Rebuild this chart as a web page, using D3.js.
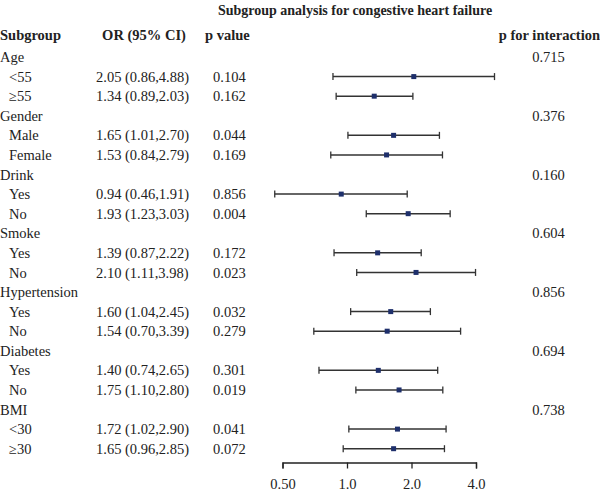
<!DOCTYPE html>
<html>
<head>
<meta charset="utf-8">
<script src="https://cdn.jsdelivr.net/npm/d3@7"></script>
<style>
  body { margin: 0; background: #fff; }
  text { font-family: "Liberation Serif", "DejaVu Serif", serif; fill: #222; }
</style>
</head>
<body>
<div id="wrapper"></div>
<script>
// Data
const labels = ["Age", "<55", "\u226555", "Gender", "Male", "Female", "Drink", "Yes", "No",
  "Smoke", "Yes", "No", "Hypertension", "Yes", "No", "Diabetes", "Yes", "No", "BMI", "<30", "\u226530"]
const isHeading = [1,0,0,1,0,0,1,0,0,1,0,0,1,0,0,1,0,0,1,0,0]
const orValues = [null, 2.05, 1.34, null, 1.65, 1.53, null, 0.94, 1.93, null, 1.39, 2.10,
  null, 1.60, 1.54, null, 1.40, 1.75, null, 1.72, 1.65]
const ciLow = [null, 0.86, 0.89, null, 1.01, 0.84, null, 0.46, 1.23, null, 0.87, 1.11,
  null, 1.04, 0.70, null, 0.74, 1.10, null, 1.02, 0.96]
const ciHigh = [null, 4.88, 2.03, null, 2.70, 2.79, null, 1.91, 3.03, null, 2.22, 3.98,
  null, 2.45, 3.39, null, 2.65, 2.80, null, 2.90, 2.85]
const pValues = ["", "0.104", "0.162", "", "0.044", "0.169", "", "0.856", "0.004", "", "0.172", "0.023",
  "", "0.032", "0.279", "", "0.301", "0.019", "", "0.041", "0.072"]
const pInteraction = ["0.715", "", "", "0.376", "", "", "0.160", "", "", "0.604", "", "",
  "0.856", "", "", "0.694", "", "", "0.738", "", ""]
const xTicks = [0.5, 1, 2, 4]
const xTickLabels = ["0.50", "1.0", "2.0", "4.0"]

const rows = labels.map((l, i) => ({
  i, label: l, heading: isHeading[i], or: orValues[i], lo: ciLow[i], hi: ciHigh[i],
  p: pValues[i], pint: pInteraction[i]
}))

const dms = { width: 600, height: 494 }

const wrapper = d3.select("#wrapper")
  .append("svg")
  .attr("width", dms.width)
  .attr("height", dms.height)

// Scales
const yScale = d3.scalePoint()
  .domain(d3.range(rows.length))
  .range([57, 448.7])

const xScale = d3.scaleLog()
  .base(2)
  .domain([0.5, 4])
  .range([282.5, 476])

const fmt = d => d.toFixed(2)

// Title and headers
wrapper.append("text")
  .attr("x", 355)
  .attr("y", 10)
  .attr("dy", "0.35em")
  .attr("text-anchor", "middle")
  .attr("font-weight", "bold")
  .attr("font-size", "14px")
  .text("Subgroup analysis for congestive heart failure")

const headers = [
  { x: 0, text: "Subgroup", anchor: "start" },
  { x: 144, text: "OR (95% CI)", anchor: "middle" },
  { x: 205, text: "p value", anchor: "start" },
  { x: 600, text: "p for interaction", anchor: "end" },
]
wrapper.append("g")
  .selectAll("text")
  .data(headers)
  .join("text")
  .attr("x", d => d.x)
  .attr("y", 35)
  .attr("dy", "0.35em")
  .attr("text-anchor", d => d.anchor)
  .attr("font-weight", "bold")
  .attr("font-size", "14.5px")
  .text(d => d.text)

// Table text
const rowGroup = wrapper.append("g")
  .selectAll("g")
  .data(rows)
  .join("g")
  .attr("transform", d => `translate(0, ${yScale(d.i)})`)

rowGroup.append("text")
  .attr("x", d => d.heading ? 0 : 9)
  .attr("dy", "0.35em")
  .attr("font-size", "14.5px")
  .text(d => d.label)

rowGroup.filter(d => d.or != null)
  .append("text")
  .attr("x", 96)
  .attr("dy", "0.35em")
  .attr("font-size", "14.5px")
  .text(d => `${fmt(d.or)} (${fmt(d.lo)},${fmt(d.hi)})`)

rowGroup.filter(d => d.p)
  .append("text")
  .attr("x", 213)
  .attr("dy", "0.35em")
  .attr("font-size", "14.5px")
  .text(d => d.p)

rowGroup.filter(d => d.pint)
  .append("text")
  .attr("x", 548.5)
  .attr("dy", "0.35em")
  .attr("text-anchor", "middle")
  .attr("font-size", "14.5px")
  .text(d => d.pint)

// CI bars
const ciRows = rowGroup.filter(d => d.or != null)
const capH = 3.5

ciRows.append("line")
  .attr("x1", d => xScale(d.lo))
  .attr("x2", d => xScale(d.hi))
  .attr("stroke", "#333")
  .attr("stroke-width", 1.5)

ciRows.append("line")
  .attr("x1", d => xScale(d.lo))
  .attr("x2", d => xScale(d.lo))
  .attr("y1", -capH)
  .attr("y2", capH)
  .attr("stroke", "#333")
  .attr("stroke-width", 1.3)

ciRows.append("line")
  .attr("x1", d => xScale(d.hi))
  .attr("x2", d => xScale(d.hi))
  .attr("y1", -capH)
  .attr("y2", capH)
  .attr("stroke", "#333")
  .attr("stroke-width", 1.3)

ciRows.append("rect")
  .attr("x", d => xScale(d.or) - 2.5)
  .attr("y", -2.5)
  .attr("width", 5)
  .attr("height", 5)
  .attr("fill", "#1e2f6b")

// Axis
const xAxisGenerator = d3.axisBottom()
  .scale(xScale)
  .tickValues(xTicks)
  .tickFormat((d, i) => xTickLabels[i])
  .tickSizeOuter(0)
  .tickSize(6)
  .tickPadding(10)

const xAxis = wrapper.append("g")
  .attr("transform", "translate(0, 462.5)")
  .call(xAxisGenerator)

xAxis.select(".domain").attr("stroke", "#222").attr("stroke-width", 1.3)
xAxis.selectAll(".tick line").attr("stroke", "#222").attr("stroke-width", 1.3)
xAxis.selectAll(".tick text")
  .attr("font-family", "'Liberation Serif', 'DejaVu Serif', serif")
  .attr("font-size", "14.5px")
  .attr("fill", "#222")
</script>
</body>
</html>
